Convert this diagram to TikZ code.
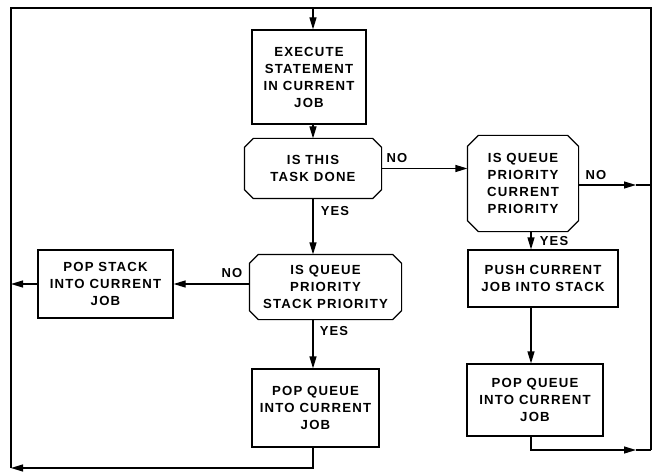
\documentclass[tikz,border=0pt]{standalone}
\usepackage{fontspec}
\newfontfamily\labfont{Liberation Sans}[LetterSpace=9]
\usetikzlibrary{arrows.meta}
\newcommand{\octo}[2]{%
  \draw ([xshift=#2]#1.north west) -- ([xshift=-#2]#1.north east) -- ([yshift=-#2]#1.north east)
    -- ([yshift=#2]#1.south east) -- ([xshift=-#2]#1.south east) -- ([xshift=#2]#1.south west)
    -- ([yshift=#2]#1.south west) -- ([yshift=-#2]#1.north west) -- cycle;}
\begin{document}
\begin{tikzpicture}[x=1pt,y=-1pt,
  line width=1.2pt,
  txt/.style={font=\labfont\bfseries\fontsize{13.2}{17}\selectfont, align=center},
  procbox/.style={txt, draw, rectangle, inner sep=0pt},
  decbox/.style={txt, rectangle, inner sep=0pt},
  lbl/.style={font=\labfont\bfseries\fontsize{13}{14}\selectfont, inner sep=0pt},
  arr/.style={-{Triangle[length=12pt,width=7pt]}}
]
\useasboundingbox (0,0) rectangle (653,473);

% frame corners
\coordinate (topL) at (11,8);
\coordinate (topR) at (651,8);
\coordinate (botL) at (11,468);
\coordinate (botR) at (651,450);
\coordinate (colC) at (313,8);
\coordinate (colR) at (531,450);

\node[procbox, minimum width=114pt, minimum height=94pt] (exec) at (309,77) {EXECUTE\\STATEMENT\\IN CURRENT\\JOB};
\node[decbox, minimum width=136pt, minimum height=59pt] (d1) at (313,168.5) {IS THIS\\TASK DONE};
\node[decbox, minimum width=110pt, minimum height=95pt] (d2) at (523,183.5) {IS QUEUE\\PRIORITY\\CURRENT\\PRIORITY};
\node[decbox, minimum width=151pt, minimum height=64pt] (d3) at (325.5,287) {IS QUEUE\\PRIORITY\\STACK PRIORITY};
\node[procbox, minimum width=135pt, minimum height=68pt] (pops) at (105.5,284) {POP STACK\\INTO CURRENT\\JOB};
\node[procbox, minimum width=127pt, minimum height=78pt] (popq1) at (315.5,408) {POP QUEUE\\INTO CURRENT\\JOB};
\node[procbox, minimum width=150pt, minimum height=57pt] (push) at (543,278.5) {PUSH CURRENT\\JOB INTO STACK};
\node[procbox, minimum width=136pt, minimum height=72pt] (popq2) at (535,400) {POP QUEUE\\INTO CURRENT\\JOB};

\octo{d1}{9pt}
\octo{d2}{11pt}
\octo{d3}{9pt}

\coordinate (leftS) at (11,284);
\coordinate (d2out) at (651,185);
\coordinate (d2tip) at (636,185);
\coordinate (brtip) at (636,450);
\coordinate (q1turn) at (313,468);

% frame
\draw (botL) -- (topL) -- (topR) -- (botR);

% center column
\draw[arr] (colC) -- (colC |- exec.north);
\draw[arr] (colC |- exec.south) -- (colC |- d1.north);
\draw[arr] (colC |- d1.south) -- (colC |- d3.north);
\draw[arr] (colC |- d3.south) -- (colC |- popq1.north);
\draw[arr] (colC |- popq1.south) -- (q1turn) -- (botL);

% left branch
\draw[arr] (d3.west |- pops.east) -- (pops.east);
\draw[arr] (pops.west) -- (leftS);

% right branch
\draw[arr] (d1.east) -- (d2.west |- d1.east);
\draw[arr] (d2.east |- d2tip) -- (d2tip);
\draw (d2tip) -- (d2out);
\draw[arr] (colR |- d2.south) -- (colR |- push.north);
\draw[arr] (colR |- push.south) -- (colR |- popq2.north);
\draw[arr] (colR |- popq2.south) -- (colR) -- (brtip);
\draw (brtip) -- (botR);

% labels
\node[lbl] (noA) at (397,158) {NO};
\node[lbl] (noB) at (596,175) {NO};
\node[lbl] (yesA) at (335,211) {YES};
\node[lbl] (noC) at (232,273) {NO};
\node[lbl] (yesB) at (334,331) {YES};
\node[lbl] (yesC) at (554,241) {YES};
\end{tikzpicture}
\end{document}
